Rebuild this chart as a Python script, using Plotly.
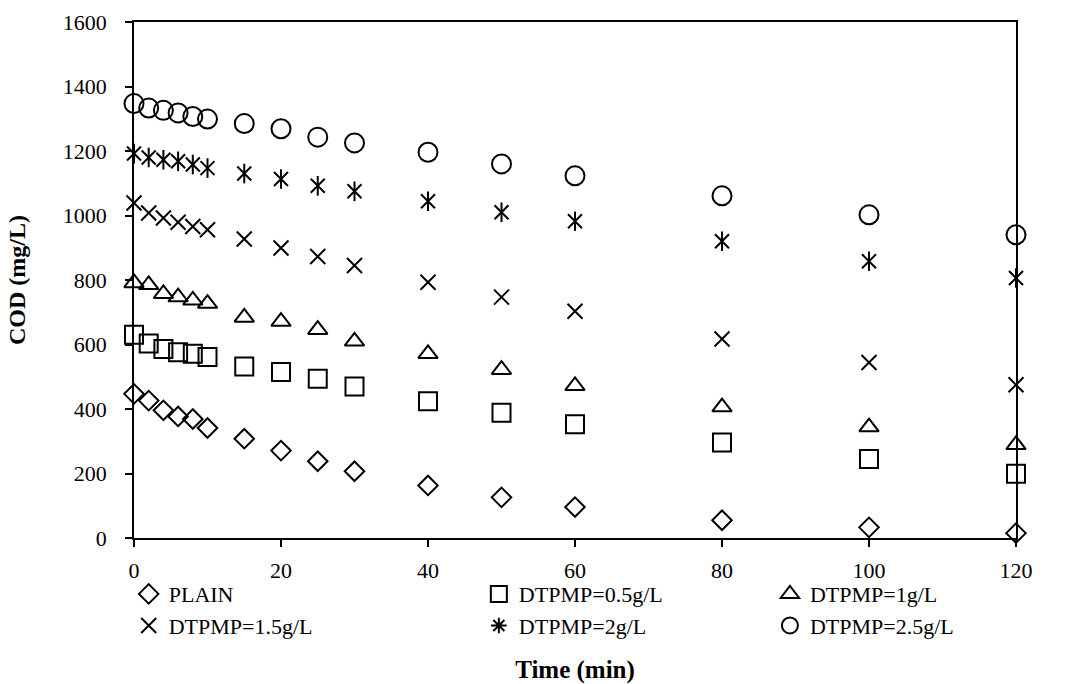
import plotly.graph_objects as go

# Sampling times (min)
time_min = [0, 2, 4, 6, 8, 10, 15, 20, 25, 30, 40, 50, 60, 80, 100, 120]

# COD (mg/L) for each DTPMP dose
cod_plain = [447, 426, 396, 377, 369, 341, 308, 271, 238, 207, 163, 126, 96, 55, 33, 15]
cod_05 = [630, 603, 586, 576, 571, 561, 532, 515, 494, 470, 424, 388, 353, 296, 245, 199]
cod_1 = [791, 785, 757, 747, 737, 727, 684, 671, 646, 610, 571, 522, 472, 406, 344, 289]
cod_15 = [1039, 1008, 992, 979, 966, 956, 927, 899, 873, 845, 793, 747, 703, 617, 544, 475]
cod_2 = [1192, 1180, 1173, 1168, 1158, 1147, 1130, 1113, 1092, 1075, 1044, 1010, 982, 920, 858, 806]
cod_25 = [1347, 1333, 1326, 1318, 1307, 1299, 1285, 1269, 1243, 1225, 1196, 1160, 1123, 1061, 1002, 940]

x_ticks = [0, 20, 40, 60, 80, 100, 120]
y_ticks = [0, 200, 400, 600, 800, 1000, 1200, 1400, 1600]

FONT = "Liberation Serif, Times New Roman, serif"
INK = "black"

fig = go.Figure()


def add_series(name, y, symbol, size, legend, show=True):
    fig.add_trace(go.Scatter(
        x=time_min, y=y, mode="markers", name=name,
        legend=legend, legendgroup=name, showlegend=show,
        cliponaxis=False,
        marker=dict(symbol=symbol, size=size, color=INK,
                    line=dict(color=INK, width=2)),
    ))


# Column 1 of the legend
add_series("PLAIN", cod_plain, "diamond-open", 15, "legend")
add_series("DTPMP=1.5g/L", cod_15, "x-thin-open", 15, "legend")
# Column 2
add_series("DTPMP=0.5g/L", cod_05, "square-open", 18, "legend2")
# six-armed star: an X with a vertical bar through it
add_series("DTPMP=2g/L", cod_2, "x-thin-open", 14, "legend2", show=False)
fig.add_trace(go.Scatter(
    x=time_min, y=cod_2, mode="markers", showlegend=False,
    legendgroup="DTPMP=2g/L", cliponaxis=False,
    marker=dict(symbol="line-ns-open", size=14, color=INK,
                line=dict(color=INK, width=2)),
))
fig.add_trace(go.Scatter(
    x=[None], y=[None], mode="markers", name="DTPMP=2g/L",
    legend="legend2", legendgroup="DTPMP=2g/L",
    marker=dict(symbol="asterisk-open", size=13, color=INK,
                line=dict(color=INK, width=2)),
))
# Column 3
add_series("DTPMP=1g/L", cod_1, "triangle-up-open", 17, "legend3")
add_series("DTPMP=2.5g/L", cod_25, "circle-open", 19, "legend3")

legend_font = dict(family=FONT, size=22, color=INK)
common_leg = dict(orientation="v", xanchor="left", yanchor="top", y=-0.068,
                  font=legend_font, bgcolor="rgba(0,0,0,0)",
                  itemwidth=30, tracegroupgap=6, traceorder="normal")

fig.update_layout(
    width=1068, height=684,
    margin=dict(l=134, r=52, t=22, b=146),
    paper_bgcolor="white", plot_bgcolor="white",
    font=dict(family=FONT, size=22, color=INK),
    legend=dict(x=-0.006, **common_leg),
    legend2=dict(x=0.391, **common_leg),
    legend3=dict(x=0.721, **common_leg),
    xaxis=dict(
        range=[0, 120], tickvals=x_ticks, ticktext=[str(v) for v in x_ticks],
        showgrid=False, zeroline=False, automargin=False,
        showline=True, linecolor=INK, linewidth=1.5, mirror=True,
        ticks="outside", ticklen=7, tickwidth=1.5, tickcolor=INK,
        ticklabelstandoff=5,
        tickfont=dict(family=FONT, size=22, color=INK),
        title=dict(text="<b>Time (min)</b>", font=dict(family=FONT, size=25, color=INK),
                   standoff=78),
    ),
    yaxis=dict(
        range=[0, 1600], tickvals=y_ticks, ticktext=[str(v) for v in y_ticks],
        showgrid=False, zeroline=False, automargin=False,
        showline=True, linecolor=INK, linewidth=1.5, mirror=True,
        ticks="outside", ticklen=7, tickwidth=1.5, tickcolor=INK,
        ticklabelstandoff=14,
        tickfont=dict(family=FONT, size=22, color=INK),
        title=dict(text="<b>COD (mg/L)</b>", font=dict(family=FONT, size=24, color=INK),
                   standoff=30),
    ),
)

fig.write_html("out.html")
